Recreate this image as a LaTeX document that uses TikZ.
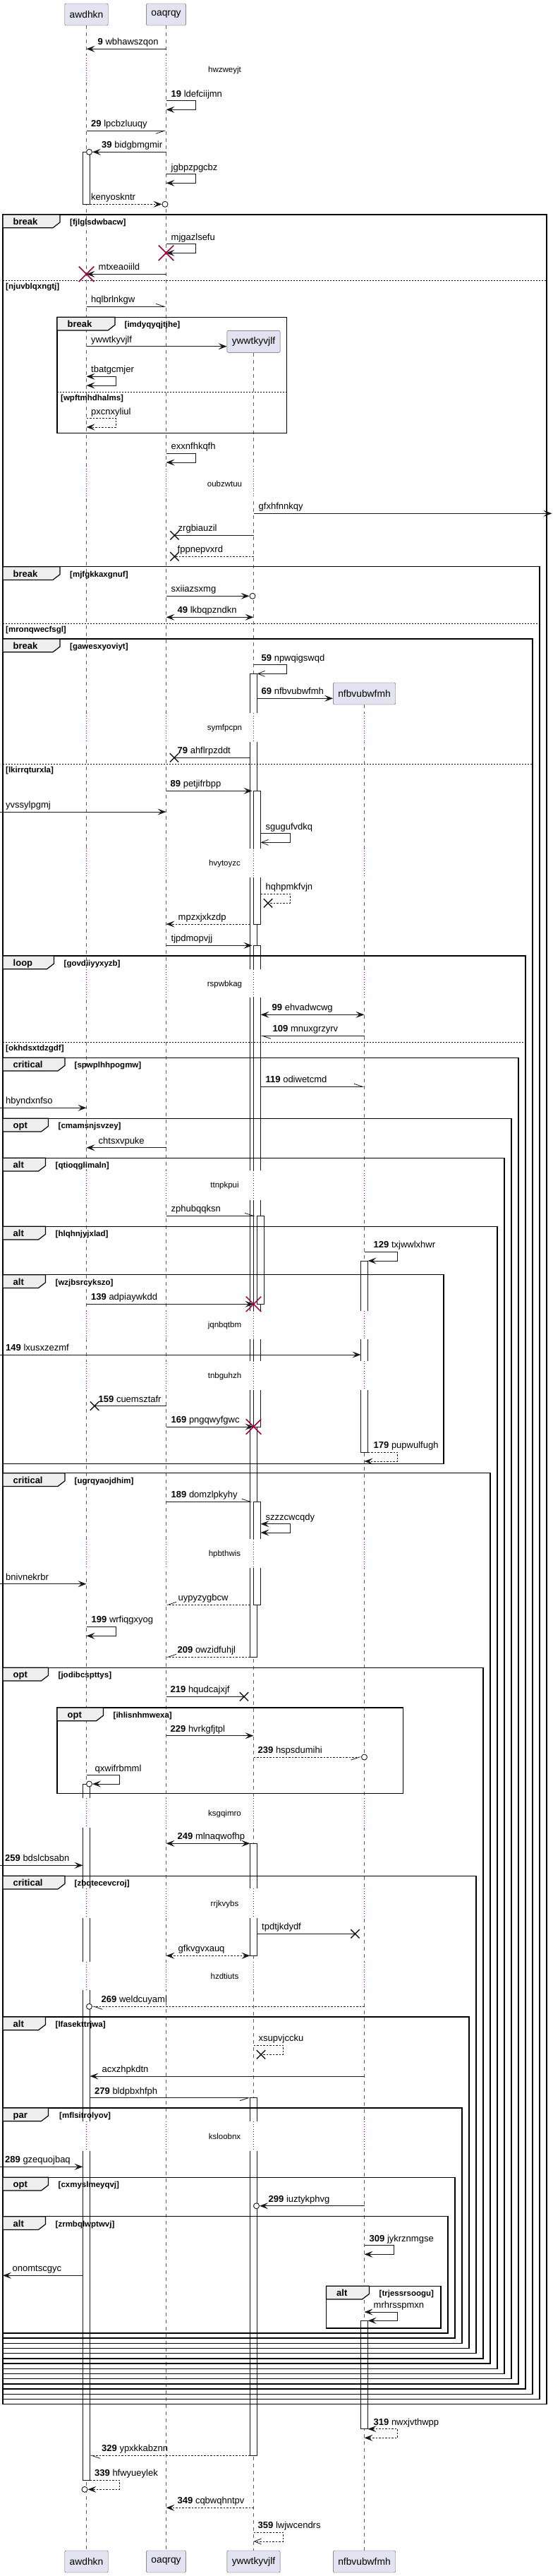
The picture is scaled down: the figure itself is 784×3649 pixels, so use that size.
\documentclass[tikz,border=0pt]{standalone}
\usepackage{fontspec}
\setmainfont{Liberation Sans}
\usetikzlibrary{arrows.meta,shapes.misc}
\definecolor{partfill}{HTML}{E2E2F0}
\definecolor{tabfill}{HTML}{EEEEEE}
\definecolor{crim}{HTML}{A80036}
\definecolor{ink}{HTML}{181818}
\begin{document}
\begin{tikzpicture}[x=1pt, y=-1pt,
	>={Stealth[length=12pt,width=9pt,inset=5pt]},
	pbox/.style={draw=gray!70!black, fill=partfill, rounded corners=2pt, minimum height=31pt,
		inner xsep=7pt, font=\fontsize{13.8}{16}\selectfont},
	lifeline/.style={draw=gray!75!black, line width=0.5pt, dash pattern=on 5pt off 5pt},
	actbar/.style={draw=ink, fill=white, line width=0.8pt},
	delayline/.style={draw=crim, line width=0.7pt, dash pattern=on 1pt off 2.5pt},
	dtxt/.style={inner sep=0, font=\fontsize{11.5}{13}\selectfont},
	fragbox/.style={draw=black, line width=1.5pt},
	tab/.style={draw=black, fill=tabfill, line width=1.2pt},
	kw/.style={anchor=base west, inner sep=0, font=\bfseries\fontsize{13}{15}\selectfont},
	cond/.style={anchor=base west, inner sep=0, font=\bfseries\fontsize{11.5}{13}\selectfont},
	elseline/.style={draw=black, line width=1pt, dash pattern=on 2pt off 2pt},
	msg/.style={draw=ink, line width=0.8pt, ->},
	rmsg/.style={msg, dash pattern=on 2.5pt off 2pt},
	lostline/.style={draw=ink, line width=0.8pt},
	rlostline/.style={lostline, dash pattern=on 2.5pt off 2pt},
	harpL/.style={-{Straight Barb[left,length=12pt,width=8pt]}},
	harpR/.style={-{Straight Barb[right,length=12pt,width=8pt]}},
	opentip/.style={-{Straight Barb[length=10pt,width=8pt]}},
	lostx/.style={cross out, draw=ink, line width=1.4pt, minimum width=11pt, minimum height=11pt, inner sep=0},
	kill/.style={cross out, draw=crim, line width=1.5pt, minimum width=20pt, minimum height=20pt, inner sep=0},
	ocirc/.style={circle, draw=ink, fill=white, line width=0.9pt, minimum size=8pt, inner sep=0},
	lbl/.style={anchor=base west, inner sep=0, font=\fontsize{13}{15}\selectfont}
]
	\useasboundingbox[fill=white] (0,0) rectangle (784,3649);
	\node[pbox] (awdhkn) at (122.5,20.5) {awdhkn};
	\node[pbox] (oaqrqy) at (235.5,20.5) {oaqrqy};
	\node[pbox] (ywwtkyvjlf) at (359.5,483.8) {ywwtkyvjlf};
	\node[pbox] (nfbvubwfmh) at (516.5,982.5) {nfbvubwfmh};
	\node[pbox] (awdhknE) at (122.5,3628.5) {awdhkn};
	\node[pbox] (oaqrqyE) at (235.5,3628.5) {oaqrqy};
	\node[pbox] (ywwtkyvjlfE) at (359.5,3628.5) {ywwtkyvjlf};
	\node[pbox] (nfbvubwfmhE) at (516.5,3628.5) {nfbvubwfmh};
	\coordinate (lft) at (0,0);
	\coordinate (lftF) at (4,0);
	\coordinate (rgt) at (782.5,0);
	\coordinate (awdL) at (117.5,0);
	\coordinate (awdR) at (127.5,0);
	\coordinate (ywwL) at (354.5,0);
	\coordinate (ywwIn) at (357.5,0);
	\coordinate (ywwIn2) at (361.5,0);
	\coordinate (ywwR) at (364.5,0);
	\coordinate (ywwR2) at (369.5,0);
	\coordinate (ywwR3) at (374.5,0);
	\coordinate (nfbL) at (511.5,0);
	\coordinate (nfbR) at (521.5,0);

	\draw[lifeline] (awdhkn) -- (awdhknE);
	\draw[lifeline] (oaqrqy) -- (oaqrqyE);
	\draw[lifeline] (ywwtkyvjlf) -- (ywwtkyvjlfE);
	\draw[lifeline] (nfbvubwfmh) -- (nfbvubwfmhE);

	\draw[actbar] (awdL|-0,215.3) rectangle (awdR|-0,289.3);
	\draw[actbar] (awdL|-0,2527) rectangle (awdR|-0,3513.3);
	\draw[actbar] (ywwL|-0,954.3) rectangle (ywwR|-0,2347.3);
	\draw[actbar] (ywwtkyvjlf|-0,1120.3) rectangle (ywwR2|-0,1309);
	\draw[actbar] (ywwtkyvjlf|-0,1339.3) rectangle (ywwR2|-0,2021);
	\draw[actbar] (ywwR|-0,1722.3) rectangle (ywwR3|-0,1847.3);
	\draw[actbar] (ywwtkyvjlf|-0,2127.3) rectangle (ywwR2|-0,2273.3);
	\draw[actbar] (ywwL|-0,2611.3) rectangle (ywwR|-0,2770.3);
	\draw[actbar] (ywwL|-0,2971.7) rectangle (ywwR|-0,3478.3);
	\draw[actbar] (nfbL|-0,1786) rectangle (nfbR|-0,2057.3);
	\draw[actbar] (nfbL|-0,3287.3) rectangle (nfbR|-0,3440.7);

	\fill[white] (100,78) rectangle (600,118);
	\draw[delayline] (awdhkn|-0,78) -- (awdhkn|-0,118) (oaqrqy|-0,78) -- (oaqrqy|-0,118);
	\node[dtxt] (d1) at (318.5,99.3) {hwzweyjt};
	\fill[white] (100,660) rectangle (600,705);
	\draw[delayline] (awdhkn|-0,660) -- (awdhkn|-0,705) (oaqrqy|-0,660) -- (oaqrqy|-0,705)
		(ywwtkyvjlf|-0,660) -- (ywwtkyvjlf|-0,705);
	\node[dtxt] (d2) at (318.5,685.7) {oubzwtuu};
	\fill[white] (100,1010) rectangle (600,1051);
	\draw[delayline] (awdhkn|-0,1010) -- (awdhkn|-0,1051) (oaqrqy|-0,1010) -- (oaqrqy|-0,1051)
		(ywwtkyvjlf|-0,1010) -- (ywwtkyvjlf|-0,1051) (nfbvubwfmh|-0,1010) -- (nfbvubwfmh|-0,1051);
	\node[dtxt] (d3) at (318.5,1031.7) {symfpcpn};
	\fill[white] (100,1201.7) rectangle (600,1242.7);
	\draw[delayline] (awdhkn|-0,1201.7) -- (awdhkn|-0,1242.7) (oaqrqy|-0,1201.7) -- (oaqrqy|-0,1242.7)
		(ywwtkyvjlf|-0,1201.7) -- (ywwtkyvjlf|-0,1242.7) (nfbvubwfmh|-0,1201.7) -- (nfbvubwfmh|-0,1242.7);
	\node[dtxt] (d4) at (318.5,1223.3) {hvytoyzc};
	\fill[white] (100,1373.3) rectangle (600,1413.3);
	\draw[delayline] (awdhkn|-0,1373.3) -- (awdhkn|-0,1413.3) (oaqrqy|-0,1373.3) -- (oaqrqy|-0,1413.3)
		(ywwtkyvjlf|-0,1373.3) -- (ywwtkyvjlf|-0,1413.3) (nfbvubwfmh|-0,1373.3) -- (nfbvubwfmh|-0,1413.3);
	\node[dtxt] (d5) at (318.5,1394.3) {rspwbkag};
	\fill[white] (100,1658.3) rectangle (600,1700);
	\draw[delayline] (awdhkn|-0,1658.3) -- (awdhkn|-0,1700) (oaqrqy|-0,1658.3) -- (oaqrqy|-0,1700)
		(ywwtkyvjlf|-0,1658.3) -- (ywwtkyvjlf|-0,1700) (nfbvubwfmh|-0,1658.3) -- (nfbvubwfmh|-0,1700);
	\node[dtxt] (d6) at (318.5,1680) {ttnpkpui};
	\fill[white] (100,1856.7) rectangle (600,1896.7);
	\draw[delayline] (awdhkn|-0,1856.7) -- (awdhkn|-0,1896.7) (oaqrqy|-0,1856.7) -- (oaqrqy|-0,1896.7)
		(ywwtkyvjlf|-0,1856.7) -- (ywwtkyvjlf|-0,1896.7) (nfbvubwfmh|-0,1856.7) -- (nfbvubwfmh|-0,1896.7);
	\node[dtxt] (d7) at (318.5,1877.3) {jqnbqtbm};
	\fill[white] (100,1927.7) rectangle (600,1969.3);
	\draw[delayline] (awdhkn|-0,1927.7) -- (awdhkn|-0,1969.3) (oaqrqy|-0,1927.7) -- (oaqrqy|-0,1969.3)
		(ywwtkyvjlf|-0,1927.7) -- (ywwtkyvjlf|-0,1969.3) (nfbvubwfmh|-0,1927.7) -- (nfbvubwfmh|-0,1969.3);
	\node[dtxt] (d8) at (318.5,1949) {tnbguhzh};
	\fill[white] (100,2180) rectangle (600,2221);
	\draw[delayline] (awdhkn|-0,2180) -- (awdhkn|-0,2221) (oaqrqy|-0,2180) -- (oaqrqy|-0,2221)
		(ywwtkyvjlf|-0,2180) -- (ywwtkyvjlf|-0,2221) (nfbvubwfmh|-0,2180) -- (nfbvubwfmh|-0,2221);
	\node[dtxt] (d9) at (318.5,2201) {hpbthwis};
	\fill[white] (100,2547) rectangle (600,2589);
	\draw[delayline] (awdhkn|-0,2547) -- (awdhkn|-0,2589) (oaqrqy|-0,2547) -- (oaqrqy|-0,2589)
		(ywwtkyvjlf|-0,2547) -- (ywwtkyvjlf|-0,2589) (nfbvubwfmh|-0,2547) -- (nfbvubwfmh|-0,2589);
	\node[dtxt] (d10) at (318.5,2569.3) {ksgqimro};
	\fill[white] (100,2675.3) rectangle (600,2716.7);
	\draw[delayline] (awdhkn|-0,2675.3) -- (awdhkn|-0,2716.7) (oaqrqy|-0,2675.3) -- (oaqrqy|-0,2716.7)
		(ywwtkyvjlf|-0,2675.3) -- (ywwtkyvjlf|-0,2716.7) (nfbvubwfmh|-0,2675.3) -- (nfbvubwfmh|-0,2716.7);
	\node[dtxt] (d11) at (318.5,2697) {rrjkvybs};
	\fill[white] (100,2779) rectangle (600,2819);
	\draw[delayline] (awdhkn|-0,2779) -- (awdhkn|-0,2819) (oaqrqy|-0,2779) -- (oaqrqy|-0,2819)
		(ywwtkyvjlf|-0,2779) -- (ywwtkyvjlf|-0,2819) (nfbvubwfmh|-0,2779) -- (nfbvubwfmh|-0,2819);
	\node[dtxt] (d12) at (318.5,2799) {hzdtiuts};
	\fill[white] (100,3005) rectangle (600,3046.7);
	\draw[delayline] (awdhkn|-0,3005) -- (awdhkn|-0,3046.7) (oaqrqy|-0,3005) -- (oaqrqy|-0,3046.7)
		(ywwtkyvjlf|-0,3005) -- (ywwtkyvjlf|-0,3046.7) (nfbvubwfmh|-0,3005) -- (nfbvubwfmh|-0,3046.7);
	\node[dtxt] (d13) at (318.5,3026) {ksloobnx};

	\draw[fragbox] (4,304) rectangle (775,3405.7);
	\draw[tab] (4,304) -- (85,304) -- (85,315) -- (75,322.7) -- (4,322.7) -- cycle;
	\node[kw] (f1) at (18.5,318.5) {break};
	\node[cond] (g1) at (99,318.5) {[fjlglsdwbacw]};
	\draw[elseline] (4,397.3) -- (775,397.3);
	\node[cond] (e1) at (8,409.3) {[njuvblqxngtj]};
	\draw[fragbox] (81,449.3) rectangle (406.5,613.3);
	\draw[tab] (81,449.3) -- (163,449.3) -- (163,460.3) -- (153,468) -- (81,468) -- cycle;
	\node[kw] (f2) at (95.5,463.8) {break};
	\node[cond] (g2) at (176.5,463.8) {[imdyqyqjtjhe]};
	\draw[elseline] (81,555.7) -- (406.5,555.7);
	\node[cond] (e2) at (86,567.5) {[wpftmhdhalms]};
	\draw[fragbox] (4,802.7) rectangle (765,3398.5);
	\draw[tab] (4,802.7) -- (85,802.7) -- (85,813.7) -- (75,821.4) -- (4,821.4) -- cycle;
	\node[kw] (f3) at (18.5,817.2) {break};
	\node[cond] (g3) at (99,817.2) {[mjfgkkaxgnuf]};
	\draw[elseline] (4,883.3) -- (765,883.3);
	\node[cond] (e3) at (8,895.3) {[mronqwecfsgl]};
	\draw[fragbox] (4,905) rectangle (755,3391.3);
	\draw[tab] (4,905) -- (85,905) -- (85,916) -- (75,923.7) -- (4,923.7) -- cycle;
	\node[kw] (f4) at (18.5,919.5) {break};
	\node[cond] (g4) at (99,919.5) {[gawesxyoviyt]};
	\draw[elseline] (4,1082.3) -- (755,1082.3);
	\node[cond] (e4) at (8,1094.3) {[lkirrqturxla]};
	\draw[fragbox] (4,1354) rectangle (745,3384.1);
	\draw[tab] (4,1354) -- (76.5,1354) -- (76.5,1365) -- (66.5,1372.7) -- (4,1372.7) -- cycle;
	\node[kw] (f5) at (18.5,1368.5) {loop};
	\node[cond] (g5) at (90.5,1368.5) {[govdiiyyxyzb]};
	\draw[elseline] (4,1476.3) -- (745,1476.3);
	\node[cond] (e5) at (8,1488.3) {[okhdsxtdzgdf]};
	\draw[fragbox] (4,1498.3) rectangle (735,3376.9);
	\draw[tab] (4,1498.3) -- (92,1498.3) -- (92,1509.3) -- (82,1517) -- (4,1517) -- cycle;
	\node[kw] (f6) at (18.5,1512.8) {critical};
	\node[cond] (g6) at (105.5,1512.8) {[spwplhhpogmw]};
	\draw[fragbox] (4,1584.3) rectangle (725,3369.7);
	\draw[tab] (4,1584.3) -- (68.5,1584.3) -- (68.5,1595.3) -- (58.5,1603) -- (4,1603) -- cycle;
	\node[kw] (f7) at (18.5,1598.8) {opt};
	\node[cond] (g7) at (82.5,1598.8) {[cmamsnjsvzey]};
	\draw[fragbox] (4,1640.3) rectangle (715,3362.5);
	\draw[tab] (4,1640.3) -- (64.5,1640.3) -- (64.5,1651.3) -- (54.5,1659) -- (4,1659) -- cycle;
	\node[kw] (f8) at (18.5,1654.8) {alt};
	\node[cond] (g8) at (78.5,1654.8) {[qtioqglimaln]};
	\draw[fragbox] (4,1737.3) rectangle (705,3355.3);
	\draw[tab] (4,1737.3) -- (64.5,1737.3) -- (64.5,1748.3) -- (54.5,1756) -- (4,1756) -- cycle;
	\node[kw] (f9) at (18.5,1751.8) {alt};
	\node[cond] (g9) at (78.5,1751.8) {[hlqhnjyjxlad]};
	\draw[fragbox] (4,1805.7) rectangle (629,2073.3);
	\draw[tab] (4,1805.7) -- (64.5,1805.7) -- (64.5,1816.7) -- (54.5,1824.4) -- (4,1824.4) -- cycle;
	\node[kw] (f10) at (18.5,1820.2) {alt};
	\node[cond] (g10) at (78.5,1820.2) {[wzjbsrcykszo]};
	\draw[fragbox] (4,2086.7) rectangle (695,3348.1);
	\draw[tab] (4,2086.7) -- (92,2086.7) -- (92,2097.7) -- (82,2105.4) -- (4,2105.4) -- cycle;
	\node[kw] (f11) at (18.5,2101.2) {critical};
	\node[cond] (g11) at (105.5,2101.2) {[ugrqyaojdhim]};
	\draw[fragbox] (4,2362.3) rectangle (685,3340.9);
	\draw[tab] (4,2362.3) -- (68.5,2362.3) -- (68.5,2373.3) -- (58.5,2381) -- (4,2381) -- cycle;
	\node[kw] (f12) at (18.5,2376.8) {opt};
	\node[cond] (g12) at (82.5,2376.8) {[jodibcspttys]};
	\draw[fragbox] (81,2419) rectangle (571.5,2540.3);
	\draw[tab] (81,2419) -- (146.5,2419) -- (146.5,2430) -- (136.5,2437.7) -- (81,2437.7) -- cycle;
	\node[kw] (f13) at (95.5,2433.5) {opt};
	\node[cond] (g13) at (160.5,2433.5) {[ihlisnhmwexa]};
	\draw[fragbox] (4,2657.3) rectangle (675,3333.7);
	\draw[tab] (4,2657.3) -- (92,2657.3) -- (92,2668.3) -- (82,2676) -- (4,2676) -- cycle;
	\node[kw] (f14) at (18.5,2671.8) {critical};
	\node[cond] (g14) at (105.5,2671.8) {[zbqtecevcroj]};
	\draw[fragbox] (4,2857) rectangle (665,3326.5);
	\draw[tab] (4,2857) -- (64.5,2857) -- (64.5,2868) -- (54.5,2875.7) -- (4,2875.7) -- cycle;
	\node[kw] (f15) at (18.5,2871.5) {alt};
	\node[cond] (g15) at (78.5,2871.5) {[lfasekttrjwa]};
	\draw[fragbox] (4,2986) rectangle (655,3319.3);
	\draw[tab] (4,2986) -- (68.5,2986) -- (68.5,2997) -- (58.5,3004.7) -- (4,3004.7) -- cycle;
	\node[kw] (f16) at (18.5,3000.5) {par};
	\node[cond] (g16) at (84,3000.5) {[mflsitrolyov]};
	\draw[fragbox] (4,3084.3) rectangle (645,3312.1);
	\draw[tab] (4,3084.3) -- (68.5,3084.3) -- (68.5,3095.3) -- (58.5,3103) -- (4,3103) -- cycle;
	\node[kw] (f17) at (18.5,3098.8) {opt};
	\node[cond] (g17) at (82.5,3098.8) {[cxmyslmeyqvj]};
	\draw[fragbox] (4,3139.7) rectangle (635,3304.9);
	\draw[tab] (4,3139.7) -- (64.5,3139.7) -- (64.5,3150.7) -- (54.5,3158.4) -- (4,3158.4) -- cycle;
	\node[kw] (f18) at (18.5,3154.2) {alt};
	\node[cond] (g18) at (78.5,3154.2) {[zrmbqlwptwvj]};
	\draw[fragbox] (462.5,3238.3) rectangle (625,3298);
	\draw[tab] (462.5,3238.3) -- (523.5,3238.3) -- (523.5,3249.3) -- (513.5,3257) -- (462.5,3257) -- cycle;
	\node[kw] (f19) at (477,3252.8) {alt};
	\node[cond] (g19) at (537.5,3252.8) {[trjessrsoogu]};

	\draw[msg] (oaqrqy|-0,69.3) -- (awdhkn|-0,69.3);
	\node[lbl] (l1) at (138.5,63.8) {\textbf{9} wbhawszqon};
	\draw[msg] (oaqrqy|-0,142.7) -- ++(42,0) -- ++(0,12.6) -- (oaqrqy|-0,155.3);
	\node[lbl] (l2) at (242.5,137.2) {\textbf{19} ldefciijmn};
	\draw[msg, harpR] (awdhkn|-0,185.3) -- (oaqrqy|-0,185.3);
	\node[lbl] (l3) at (129,179.8) {\textbf{29} lpcbzluuqy};
	\node[ocirc] (c4) at (126.5,215.3) {};
	\draw[msg] (oaqrqy|-0,215.3) -- (c4);
	\node[lbl] (l4) at (144,209.8) {\textbf{39} bidgbmgmir};
	\draw[msg] (oaqrqy|-0,246.7) -- ++(42,0) -- ++(0,12.6) -- (oaqrqy|-0,259.3);
	\node[lbl] (l5) at (242.5,241.2) {jgbpzpgcbz};
	\node[ocirc] (c6) at (234,289.3) {};
	\draw[rmsg] (awdR|-0,289.3) -- (c6);
	\node[lbl] (l6) at (129,283.8) {kenyoskntr};
	\draw[msg] (oaqrqy|-0,345.7) -- ++(42,0) -- ++(0,12.6) -- (oaqrqy|-0,358.3);
	\node[kill] (k7) at (oaqrqy|-0,358.3) {};
	\node[lbl] (l7) at (242.5,340.2) {mjgazlsefu};
	\draw[msg] (oaqrqy|-0,388.3) -- (awdhkn|-0,388.3);
	\node[kill] (k8) at (awdhkn|-0,388.3) {};
	\node[lbl] (l8) at (139.5,382.8) {mtxeaoiild};
	\draw[msg, harpL] (awdhkn|-0,434.3) -- (oaqrqy|-0,434.3);
	\node[lbl] (l9) at (129,428.8) {hqlbrlnkgw};
	\draw[msg] (awdhkn|-0,490.7) -- (ywwtkyvjlf.west|-0,490.7);
	\node[lbl] (l10) at (129,485.2) {ywwtkyvjlf};
	\draw[msg, <->] (awdhkn|-0,533.3) -- ++(42,0) -- ++(0,12.7) -- (awdhkn|-0,546);
	\node[lbl] (l11) at (129,527.8) {tbatgcmjer};
	\draw[rmsg] (awdhkn|-0,592.7) -- ++(42,0) -- ++(0,12.3) -- (awdhkn|-0,605);
	\node[lbl] (l12) at (129,587.2) {pxcnxyliul};
	\draw[msg] (oaqrqy|-0,642.3) -- ++(42,0) -- ++(0,12.7) -- (oaqrqy|-0,655);
	\node[lbl] (l13) at (242.5,636.8) {exxnfhkqfh};
	\draw[msg] (ywwtkyvjlf|-0,727.3) -- (rgt|-0,727.3);
	\node[lbl] (l14) at (366.5,721.8) {gfxhfnnkqy};
	\node[lostx] (x15) at (247.5,758.3) {};
	\draw[lostline] (ywwtkyvjlf|-0,758.3) -- (x15.center);
	\node[lbl] (l15) at (252.5,752.8) {zrgbiauzil};
	\node[lostx] (x16) at (247.5,788.3) {};
	\draw[rlostline] (ywwtkyvjlf|-0,788.3) -- (x16.center);
	\node[lbl] (l16) at (251.5,782.8) {fppnepvxrd};
	\node[ocirc] (c17) at (358,844.3) {};
	\draw[msg] (oaqrqy|-0,844.3) -- (c17);
	\node[lbl] (l17) at (242.5,838.8) {sxiiazsxmg};
	\draw[msg, <->] (oaqrqy|-0,874.3) -- (ywwtkyvjlf|-0,874.3);
	\node[lbl] (l18) at (251.5,868.8) {\textbf{49} lkbqpzndkn};
	\draw[msg, opentip] (ywwtkyvjlf|-0,941.7) -- ++(47,0) -- ++(0,12.6) -- (ywwR|-0,954.3);
	\node[lbl] (l19) at (370.5,936.2) {\textbf{59} npwqigswqd};
	\draw[msg] (ywwR|-0,989.3) -- (nfbvubwfmh.west|-0,989.3);
	\node[lbl] (l20) at (370.5,983.8) {\textbf{69} nfbvubwfmh};
	\node[lostx] (x21) at (247,1073.3) {};
	\draw[lostline] (ywwL|-0,1073.3) -- (x21.center);
	\node[lbl] (l21) at (251.5,1067.8) {\textbf{79} ahflrpzddt};
	\draw[msg] (oaqrqy|-0,1120.3) -- (ywwIn|-0,1120.3);
	\node[lbl] (l22) at (241.5,1114.8) {\textbf{89} petjifrbpp};
	\draw[msg] (lft|-0,1150) -- (oaqrqy|-0,1150);
	\node[lbl] (l23) at (8,1144.5) {yvssylpgmj};
	\draw[msg, opentip] (ywwR2|-0,1180.7) -- ++(42,0) -- ++(0,12.6) -- (ywwR2|-0,1193.3);
	\node[lbl] (l24) at (376.5,1175.2) {sgugufvdkq};
	\node[lostx] (x25) at (380,1279.3) {};
	\draw[rlostline] (ywwR2|-0,1266.3) -- ++(42,0) -- ++(0,13) -- (x25.center);
	\node[lbl] (l25) at (376.5,1260.8) {hqhpmkfvjn};
	\draw[rmsg] (ywwL|-0,1309) -- (oaqrqy|-0,1309);
	\node[lbl] (l26) at (252.5,1303.5) {mpzxjxkzdp};
	\draw[msg] (oaqrqy|-0,1339.3) -- (ywwIn|-0,1339.3);
	\node[lbl] (l27) at (242.5,1333.8) {tjpdmopvjj};
	\draw[msg, <->] (ywwR2|-0,1437.3) -- (nfbvubwfmh|-0,1437.3);
	\node[lbl] (l28) at (385.5,1431.8) {\textbf{99} ehvadwcwg};
	\draw[msg, harpL] (nfbvubwfmh|-0,1467.3) -- (ywwR2|-0,1467.3);
	\node[lbl] (l29) at (386.5,1461.8) {\textbf{109} mnuxgrzyrv};
	\draw[msg, harpL] (ywwR2|-0,1539.3) -- (nfbvubwfmh|-0,1539.3);
	\node[lbl] (l30) at (376.5,1533.8) {\textbf{119} odiwetcmd};
	\draw[msg] (lft|-0,1569.3) -- (awdhkn|-0,1569.3);
	\node[lbl] (l31) at (8,1563.8) {hbyndxnfso};
	\draw[msg] (oaqrqy|-0,1625.7) -- (awdhkn|-0,1625.7);
	\node[lbl] (l32) at (139.5,1620.2) {chtsxvpuke};
	\draw[msg, harpL] (oaqrqy|-0,1722.3) -- (ywwIn2|-0,1722.3);
	\node[lbl] (l33) at (242.5,1716.8) {zphubqqksn};
	\draw[msg] (nfbvubwfmh|-0,1773.3) -- ++(47,0) -- ++(0,12.7) -- (nfbR|-0,1786);
	\node[lbl] (l34) at (529.5,1767.8) {\textbf{129} txjwwlxhwr};
	\draw[msg] (awdhkn|-0,1847.3) -- (ywwtkyvjlf|-0,1847.3);
	\node[kill] (k35) at (ywwtkyvjlf|-0,1847.3) {};
	\node[lbl] (l35) at (129,1841.8) {\textbf{139} adpiaywkdd};
	\draw[msg] (lft|-0,1919) -- (nfbL|-0,1919);
	\node[lbl] (l36) at (8,1913.5) {\textbf{149} lxusxzezmf};
	\node[lostx] (x37) at (134,1991.7) {};
	\draw[lostline] (oaqrqy|-0,1991.7) -- (x37.center);
	\node[lbl] (l37) at (139.5,1986.2) {\textbf{159} cuemsztafr};
	\draw[msg] (oaqrqy|-0,2021) -- (ywwtkyvjlf|-0,2021);
	\node[kill] (k38) at (ywwtkyvjlf|-0,2021) {};
	\node[lbl] (l38) at (242.5,2015.5) {\textbf{169} pngqwyfgwc};
	\draw[rmsg] (nfbR|-0,2057.3) -- ++(42,0) -- ++(0,12.7) -- (nfbvubwfmh|-0,2070);
	\node[lbl] (l39) at (529.5,2051.8) {\textbf{179} pupwulfugh};
	\draw[msg, harpL] (oaqrqy|-0,2127.3) -- (ywwIn|-0,2127.3);
	\node[lbl] (l40) at (242.5,2121.8) {\textbf{189} domzlpkyhy};
	\draw[msg, <->] (ywwR2|-0,2158.7) -- ++(42,0) -- ++(0,12.3) -- (ywwR2|-0,2171);
	\node[lbl] (l41) at (376.5,2153.2) {szzzcwcqdy};
	\draw[msg] (lft|-0,2243.7) -- (awdhkn|-0,2243.7);
	\node[lbl] (l42) at (8,2238.2) {bnivnekrbr};
	\draw[rmsg, harpR] (ywwL|-0,2273.3) -- (oaqrqy|-0,2273.3);
	\node[lbl] (l43) at (252.5,2267.8) {uypyzygbcw};
	\draw[msg] (awdhkn|-0,2304.3) -- ++(42,0) -- ++(0,13) -- (awdhkn|-0,2317.3);
	\node[lbl] (l44) at (129.5,2298.8) {\textbf{199} wrfiqgxyog};
	\draw[rmsg, harpR] (ywwL|-0,2347.3) -- (oaqrqy|-0,2347.3);
	\node[lbl] (l45) at (251.5,2341.8) {\textbf{209} owzidfuhjl};
	\node[lostx] (x46) at (346,2403.3) {};
	\draw[lostline] (oaqrqy|-0,2403.3) -- (x46.center);
	\node[lbl] (l46) at (241.5,2397.8) {\textbf{219} hqudcajxjf};
	\draw[msg] (oaqrqy|-0,2458.7) -- (ywwtkyvjlf|-0,2458.7);
	\node[lbl] (l47) at (241.5,2453.2) {\textbf{229} hvrkgfjtpl};
	\node[ocirc] (c48) at (nfbvubwfmh|-0,2489) {};
	\draw[rmsg, harpR] (ywwtkyvjlf|-0,2489) -- (c48);
	\node[lbl] (l48) at (365.5,2483.5) {\textbf{239} hspsdumihi};
	\node[ocirc] (c49) at (126.5,2527) {};
	\draw[msg] (awdhkn|-0,2514.7) -- ++(47,0) -- ++(0,12.3) -- (c49);
	\node[lbl] (l49) at (134.5,2509.2) {qxwifrbmml};
	\draw[msg, <->] (oaqrqy|-0,2611.3) -- (ywwL|-0,2611.3);
	\node[lbl] (l50) at (251.5,2605.8) {\textbf{249} mlnaqwofhp};
	\draw[msg] (lft|-0,2642.3) -- (awdL|-0,2642.3);
	\node[lbl] (l51) at (7,2636.8) {\textbf{259} bdslcbsabn};
	\node[lostx] (x52) at (503.5,2739.3) {};
	\draw[lostline] (ywwR|-0,2739.3) -- (x52.center);
	\node[lbl] (l52) at (371,2733.8) {tpdtjkdydf};
	\draw[rmsg, <->] (ywwL|-0,2770.3) -- (oaqrqy|-0,2770.3);
	\node[lbl] (l53) at (252.5,2764.8) {gfkvgvxauq};
	\node[ocirc] (c54) at (126.5,2842.3) {};
	\draw[rmsg, harpL] (nfbvubwfmh|-0,2842.3) -- (c54);
	\node[lbl] (l54) at (143.5,2836.8) {\textbf{269} weldcuyaml};
	\node[lostx] (x55) at (370,2910.3) {};
	\draw[rlostline] (ywwtkyvjlf|-0,2897.3) -- ++(42,0) -- ++(0,13) -- (x55.center);
	\node[lbl] (l55) at (366.5,2891.8) {xsupvjccku};
	\draw[msg] (nfbvubwfmh|-0,2941) -- (awdR|-0,2941);
	\node[lbl] (l56) at (144.5,2935.5) {acxzhpkdtn};
	\draw[msg, harpR] (awdR|-0,2971.7) -- (ywwL|-0,2971.7);
	\node[lbl] (l57) at (134,2966.2) {\textbf{279} bldpbxhfph};
	\draw[msg] (lft|-0,3069.3) -- (awdL|-0,3069.3);
	\node[lbl] (l58) at (7,3063.8) {\textbf{289} gzequojbaq};
	\node[ocirc] (c59) at (363.5,3124.7) {};
	\draw[msg] (nfbvubwfmh|-0,3124.7) -- (c59);
	\node[lbl] (l59) at (380.5,3119.2) {\textbf{299} iuztykphvg};
	\draw[msg] (nfbvubwfmh|-0,3180.7) -- ++(42,0) -- ++(0,12.6) -- (nfbvubwfmh|-0,3193.3);
	\node[lbl] (l60) at (523.5,3175.2) {\textbf{309} jykrznmgse};
	\draw[msg] (awdL|-0,3223.3) -- (lftF|-0,3223.3);
	\node[lbl] (l61) at (17.5,3217.8) {onomtscgyc};
	\draw[msg, <->] (nfbvubwfmh|-0,3275) -- ++(47,0) -- ++(0,12.3) -- (nfbR|-0,3287.3);
	\node[lbl] (l62) at (529.5,3269.5) {mrhrsspmxn};
	\draw[rmsg, <->] (nfbR|-0,3440.7) -- ++(42,0) -- ++(0,12.6) -- (nfbvubwfmh|-0,3453.3);
	\node[lbl] (l63) at (529.5,3435.2) {\textbf{319} nwxjvthwpp};
	\draw[rmsg, harpL] (ywwL|-0,3478.3) -- (awdR|-0,3478.3);
	\node[lbl] (l64) at (144,3472.8) {\textbf{329} ypxkkabznn};
	\node[ocirc] (c65) at (120,3526.3) {};
	\draw[rmsg] (awdR|-0,3513.3) -- ++(42,0) -- ++(0,13) -- (c65);
	\node[lbl] (l65) at (134,3507.8) {\textbf{339} hfwyueylek};
	\draw[rmsg] (ywwtkyvjlf|-0,3552.3) -- (oaqrqy|-0,3552.3);
	\node[lbl] (l66) at (251.5,3546.8) {\textbf{349} cqbwqhntpv};
	\draw[rmsg, opentip] (ywwtkyvjlf|-0,3587.3) -- ++(42,0) -- ++(0,12.7) -- (ywwtkyvjlf|-0,3600);
	\node[lbl] (l67) at (365.5,3581.8) {\textbf{359} lwjwcendrs};
\end{tikzpicture}
\end{document}
